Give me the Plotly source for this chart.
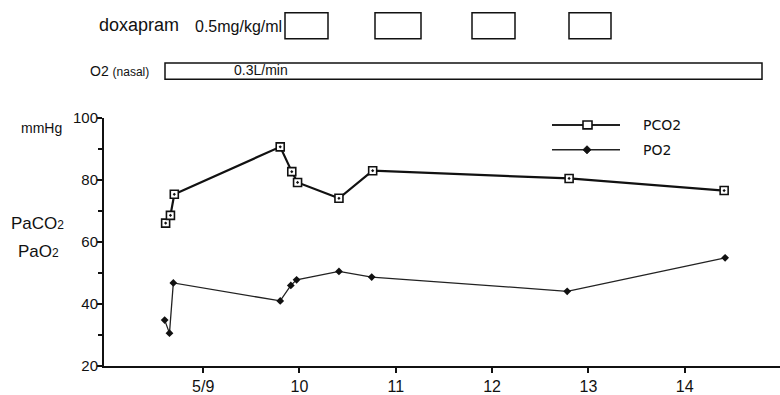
import plotly.graph_objects as go

# ---------------- data ----------------
days_pco2 = [8.61, 8.66, 8.70, 9.80, 9.92, 9.98, 10.41, 10.76, 12.80, 14.41]
pco2 = [66.1, 68.6, 75.4, 90.7, 82.7, 79.2, 74.1, 83.0, 80.5, 76.6]
days_po2 = [8.60, 8.65, 8.69, 9.80, 9.91, 9.97, 10.41, 10.75, 12.78, 14.42]
po2 = [34.8, 30.6, 46.8, 41.0, 46.0, 47.8, 50.5, 48.7, 44.1, 54.9]

x_tickvals = [9, 10, 11, 12, 13, 14]
x_ticktext = ["5/9", "10", "11", "12", "13", "14"]
y_tickvals = [20, 40, 60, 80, 100]
series_names = ["PCO2", "PO2"]

# ---------------- layout helpers (pixel -> paper) ----------------
W, H = 780, 395
L, R, T, B = 104, 780, 118, 368


def pxx(x):
    return (x - L) / (R - L)


def pxy(y):
    return (B - y) / (B - T)


fig = go.Figure()
fig.add_trace(go.Scatter(
    x=days_pco2, y=pco2, mode="lines+markers", name=series_names[0],
    line=dict(color="#111111", width=2.2),
    marker=dict(symbol="square-dot", size=8, color="white",
                line=dict(color="#111111", width=1.6)),
    showlegend=False, cliponaxis=False))
fig.add_trace(go.Scatter(
    x=days_po2, y=po2, mode="lines+markers", name=series_names[1],
    line=dict(color="#222222", width=1.3),
    marker=dict(symbol="diamond", size=6, color="#111111"),
    showlegend=False, cliponaxis=False))

shapes = []
annotations = []
font = "Liberation Sans, Arial, sans-serif"

# doxapram boxes
for x0, x1 in [(285, 328), (375, 421), (472, 515), (569, 611)]:
    shapes.append(dict(type="rect", xref="paper", yref="paper",
                       x0=pxx(x0), x1=pxx(x1), y0=pxy(38), y1=pxy(12),
                       line=dict(color="#111111", width=1.5)))
# O2 bar
shapes.append(dict(type="rect", xref="paper", yref="paper",
                   x0=pxx(165), x1=pxx(762), y0=pxy(79), y1=pxy(62.5),
                   line=dict(color="#111111", width=1.5)))

annotations += [
    dict(text="doxapram", x=pxx(97), y=pxy(24), xanchor="left", yanchor="middle",
         font=dict(size=18, family=font, color="#111")),
    dict(text="0.5mg/kg/ml", x=pxx(193), y=pxy(26), xanchor="left", yanchor="middle",
         font=dict(size=16, family=font, color="#111")),
    dict(text="O2 <span style='font-size:12px'>(nasal)</span>", x=pxx(88), y=pxy(71),
         xanchor="left", yanchor="middle", font=dict(size=14, family=font, color="#111")),
    dict(text="0.3L/min", x=pxx(232), y=pxy(70), xanchor="left", yanchor="middle",
         font=dict(size=14, family=font, color="#111")),
    dict(text="mmHg", x=pxx(19), y=pxy(128), xanchor="left", yanchor="middle",
         font=dict(size=14, family=font, color="#111")),
    dict(text="PaCO<span style='font-size:12px'>2</span>", x=pxx(9), y=pxy(224),
         xanchor="left", yanchor="middle", font=dict(size=17, family=font, color="#111")),
    dict(text="PaO<span style='font-size:12px'>2</span>", x=pxx(16), y=pxy(253),
         xanchor="left", yanchor="middle", font=dict(size=17, family=font, color="#111")),
]

# custom legend
for yy, name in [(125, series_names[0]), (150, series_names[1])]:
    shapes.append(dict(type="line", xref="paper", yref="paper",
                       x0=pxx(552), x1=pxx(620), y0=pxy(yy), y1=pxy(yy),
                       line=dict(color="#222222", width=2.0 if yy == 125 else 1.3)))
    annotations.append(dict(text=name, x=pxx(641), y=pxy(yy), xanchor="left",
                            yanchor="middle",
                            font=dict(size=14, family="DejaVu Sans, sans-serif", color="#111")))
shapes.append(dict(type="rect", xref="paper", yref="paper",
                   x0=pxx(583), x1=pxx(592), y0=pxy(129), y1=pxy(121),
                   fillcolor="white", line=dict(color="#111111", width=1.6)))
shapes.append(dict(type="path", xref="paper", yref="paper",
                   path=f"M {pxx(583)},{pxy(150)} L {pxx(587)},{pxy(146)} L {pxx(591)},{pxy(150)} L {pxx(587)},{pxy(154)} Z",
                   fillcolor="#111111", line=dict(color="#111111", width=1)))

for a in annotations:
    a.update(xref="paper", yref="paper", showarrow=False)

fig.update_layout(
    width=W, height=H,
    margin=dict(l=L, r=W - R, t=T, b=H - B, pad=0),
    paper_bgcolor="white", plot_bgcolor="white",
    shapes=shapes, annotations=annotations,
    xaxis=dict(range=[7.97, 14.99], tickvals=x_tickvals, ticktext=x_ticktext,
               showgrid=False, zeroline=False, showline=True, linecolor="#111",
               linewidth=2, ticks="outside", ticklen=5, tickwidth=1.5, tickcolor="#111",
               tickfont=dict(size=16, family=font, color="#111")),
    yaxis=dict(range=[20, 100], tickvals=y_tickvals,
               showgrid=False, zeroline=False, showline=True, linecolor="#111",
               linewidth=2, ticks="outside", ticklen=5, tickwidth=1.5, tickcolor="#111",
               ticklabelstandoff=-4,
               tickfont=dict(size=15, family=font, color="#111"),
               minor=dict(dtick=10, ticks="outside", ticklen=4, tickwidth=1.5,
                          tickcolor="#111", showgrid=False)),
    showlegend=False,
)

fig.write_html("out.html", config={"displayModeBar": False},
               post_script="document.body.style.margin='0';document.body.style.overflow='hidden';")
